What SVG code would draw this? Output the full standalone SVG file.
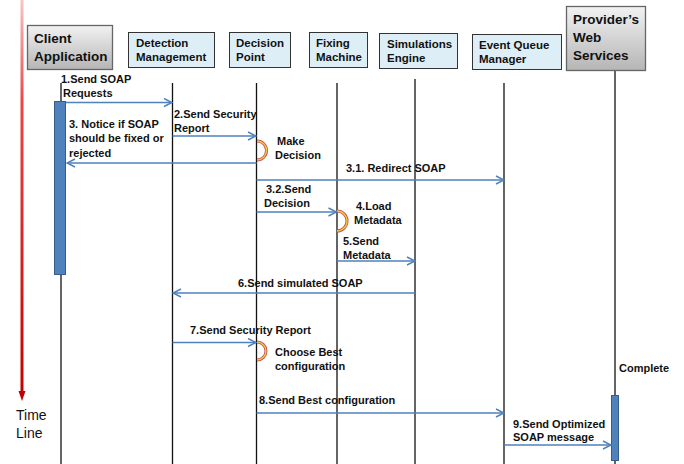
<svg xmlns="http://www.w3.org/2000/svg" width="684" height="464" viewBox="0 0 684 464">
<defs>
<linearGradient id="gray" x1="0" y1="0" x2="0" y2="1">
<stop offset="0" stop-color="#f2f2f2"/><stop offset="1" stop-color="#b5b5b5"/>
</linearGradient>
<linearGradient id="red" gradientUnits="userSpaceOnUse" x1="0" y1="0" x2="0" y2="400">
<stop offset="0" stop-color="#f7c6c6"/><stop offset="0.25" stop-color="#e84848"/><stop offset="1" stop-color="#c00000"/>
</linearGradient>
<marker id="ah" viewBox="0 0 10 10" refX="9" refY="5" markerWidth="10" markerHeight="10" markerUnits="userSpaceOnUse" orient="auto">
<path d="M1,1 L9,5 L1,9" fill="none" stroke="#4f81bd" stroke-width="1.5"/>
</marker>
</defs>
<style>
.lbl{font-family:"Liberation Sans",Arial,sans-serif;font-weight:bold;font-size:11px;fill:#111}
.hd{font-family:"Liberation Sans",Arial,sans-serif;font-weight:bold;font-size:11.5px;fill:#111}
.hdb{font-family:"Liberation Sans",Arial,sans-serif;font-weight:bold;font-size:13.5px;fill:#111}
.tl{font-family:"Liberation Sans",Arial,sans-serif;font-size:14px;fill:#111}
.box{fill:#ddeef6;stroke:#333;stroke-width:1}
.gbox{fill:url(#gray);stroke:#666;stroke-width:1.3}
.life{stroke:#111;stroke-width:1.3;fill:none}
.msg{stroke:#4f81bd;stroke-width:1.5;fill:none;marker-end:url(#ah)}
.act{fill:#4f81bd;stroke:#385d8a;stroke-width:1}
.loopo{fill:none;stroke:#c0504d;stroke-width:3}
.loopi{fill:none;stroke:#f6c443;stroke-width:1.4}
</style>
<g id="timeline">
<rect x="20.5" y="0" width="3" height="392" fill="url(#red)"/>
<path d="M18.5,391 L25.5,391 L22,401 Z" fill="#c00000"/>
<text class="tl" x="16" y="420">Time</text>
<text class="tl" x="16" y="438">Line</text>
</g>
<g id="lifelines">
<line class="life" x1="61" y1="83" x2="61" y2="464"/>
<line class="life" x1="172.5" y1="83" x2="172.5" y2="464"/>
<line class="life" x1="256.5" y1="83" x2="256.5" y2="464"/>
<line class="life" x1="337" y1="83" x2="337" y2="464"/>
<line class="life" x1="415" y1="79" x2="415" y2="464"/>
<line class="life" x1="504" y1="83" x2="504" y2="464"/>
<line class="life" x1="615" y1="71" x2="615" y2="464"/>
</g>
<g id="client"><rect class="gbox" x="27.5" y="25.5" width="85" height="44"/><text class="hdb" x="34" y="43">Client</text><text class="hdb" x="34" y="61">Application</text></g>
<g id="detection"><rect class="box" x="128.5" y="32.5" width="86" height="35"/><text class="hd" x="136" y="47">Detection</text><text class="hd" x="136" y="61">Management</text></g>
<g id="decision"><rect class="box" x="229.5" y="32.5" width="61" height="35"/><text class="hd" x="236" y="47">Decision</text><text class="hd" x="236" y="61">Point</text></g>
<g id="fixing"><rect class="box" x="309.5" y="32.5" width="58" height="35"/><text class="hd" x="316" y="47">Fixing</text><text class="hd" x="316" y="61">Machine</text></g>
<g id="simulations"><rect class="box" x="379.5" y="33.5" width="78" height="35"/><text class="hd" x="387" y="48">Simulations</text><text class="hd" x="387" y="62">Engine</text></g>
<g id="eventqueue"><rect class="box" x="472.5" y="34.5" width="89" height="35"/><text class="hd" x="479" y="49">Event Queue</text><text class="hd" x="479" y="63">Manager</text></g>
<g id="provider"><rect class="gbox" x="566.5" y="6.5" width="79" height="64"/><text class="hdb" x="573" y="24">Provider’s</text><text class="hdb" x="573" y="42">Web</text><text class="hdb" x="573" y="60">Services</text></g>
<g id="activations">
<rect class="act" x="54.5" y="101.5" width="11" height="173"/>
<rect class="act" x="611.5" y="395.5" width="7" height="65"/>
</g>
<g id="loops">
<path class="loopo" d="M257,141 A9.5,9.5 0 0 1 257,160"/><path class="loopi" d="M257,141 A9.5,9.5 0 0 1 257,160"/>
<path class="loopo" d="M337,211 A10,10 0 0 1 337,231"/><path class="loopi" d="M337,211 A10,10 0 0 1 337,231"/>
<path class="loopo" d="M257,342 A9,9 0 0 1 257,360"/><path class="loopi" d="M257,342 A9,9 0 0 1 257,360"/>
</g>
<g id="connectors">
<line class="msg" x1="66" y1="102.5" x2="172" y2="102.5"/>
<line class="msg" x1="172.5" y1="136" x2="256" y2="136"/>
<line class="msg" x1="256.5" y1="163" x2="67" y2="163"/>
<line class="msg" x1="256.5" y1="180" x2="504" y2="180"/>
<line class="msg" x1="256.5" y1="212" x2="336.5" y2="212"/>
<line class="msg" x1="337" y1="261" x2="415" y2="261"/>
<line class="msg" x1="415" y1="293" x2="173" y2="293"/>
<line class="msg" x1="172.5" y1="342.5" x2="256" y2="342.5"/>
<line class="msg" x1="256.5" y1="413" x2="504" y2="413"/>
<line class="msg" x1="504" y1="445" x2="611" y2="445"/>
</g>
<g id="labels">
<text class="lbl" x="61" y="83">1.Send SOAP</text><text class="lbl" x="63" y="97">Requests</text>
<text class="lbl" x="174" y="118">2.Send Security</text><text class="lbl" x="174" y="132">Report</text>
<text class="lbl" x="69" y="128">3. Notice if SOAP</text><text class="lbl" x="69" y="142">should be fixed or</text><text class="lbl" x="69" y="157">rejected</text>
<text class="lbl" x="277" y="145">Make</text><text class="lbl" x="275" y="159">Decision</text>
<text class="lbl" x="346" y="172">3.1. Redirect SOAP</text>
<text class="lbl" x="266" y="193">3.2.Send</text><text class="lbl" x="264" y="207">Decision</text>
<text class="lbl" x="356" y="210">4.Load</text><text class="lbl" x="354" y="224">Metadata</text>
<text class="lbl" x="343" y="245">5.Send</text><text class="lbl" x="343" y="259">Metadata</text>
<text class="lbl" x="238" y="287">6.Send simulated SOAP</text>
<text class="lbl" x="190" y="334">7.Send Security Report</text>
<text class="lbl" x="275" y="356">Choose Best</text><text class="lbl" x="275" y="370">configuration</text>
<text class="lbl" x="259" y="404">8.Send Best configuration</text>
<text class="lbl" x="619" y="372">Complete</text>
<text class="lbl" x="513" y="428">9.Send Optimized</text><text class="lbl" x="513" y="441">SOAP message</text>
</g>
</svg>
